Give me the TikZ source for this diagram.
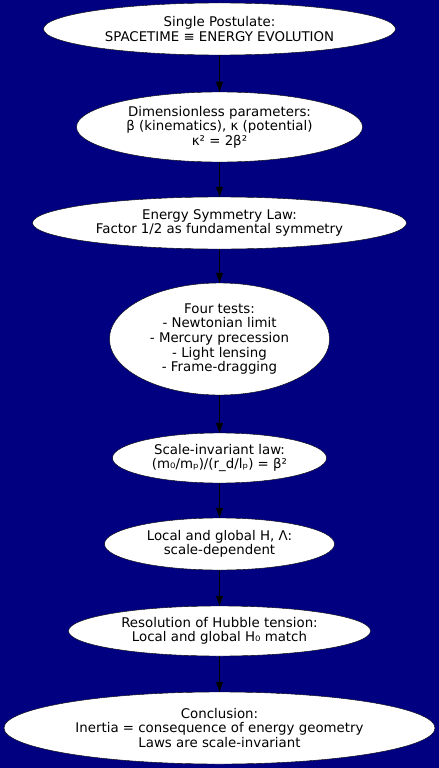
\documentclass[tikz,border=0pt]{standalone}
\usepackage{fontspec}
\setmainfont{DejaVu Sans}
\usetikzlibrary{shapes.geometric,arrows.meta}
\definecolor{azulFondo}{HTML}{000080}
\definecolor{negroT}{HTML}{000000}

\begin{document}
\begin{tikzpicture}[x=1bp,y=-1bp,
    elipse/.style={ellipse,draw=negroT,fill=white,inner sep=0pt,align=center,
      text=negroT,font=\fontsize{13.4}{14.6}\selectfont},
    flecha/.style={draw=negroT,-{Triangle[length=10bp,width=7bp]}}]
  \fill[azulFondo] (0,0) rectangle (439,768);
  \useasboundingbox (0,0) rectangle (439,768);
  % nodos
  \node[elipse,minimum width=352bp,minimum height=52bp] (postulado) at (219.5,29)
    {Single Postulate:\\SPACETIME ≡ ENERGY EVOLUTION};
  \node[elipse,minimum width=286bp,minimum height=70bp] (parametros) at (219.5,127)
    {Dimensionless parameters:\\β (kinematics), κ (potential)\\κ² = 2β²};
  \node[elipse,minimum width=374bp,minimum height=52bp] (simetria) at (219.5,223)
    {Energy Symmetry Law:\\Factor 1/2 as fundamental symmetry};
  \node[elipse,minimum width=220bp,minimum height=112bp] (pruebas) at (219.5,339)
    {Four tests:\\- Newtonian limit\\- Mercury precession\\- Light lensing\\- Frame-dragging};
  \node[elipse,minimum width=214bp,minimum height=50bp] (escala) at (219.5,458)
    {Scale-invariant law:\\(m₀/mₚ)/(r\_d/lₚ) = β²};
  \node[elipse,minimum width=230bp,minimum height=52bp] (local) at (219.5,544)
    {Local and global H, Λ:\\scale-dependent};
  \node[elipse,minimum width=302bp,minimum height=50bp] (hubble) at (219.5,631)
    {Resolution of Hubble tension:\\Local and global H₀ match};
  \node[elipse,minimum width=431bp,minimum height=72bp] (conclusion) at (219.5,728)
    {Conclusion:\\Inertia = consequence of energy geometry\\Laws are scale-invariant};
  % flechas
  \draw[flecha] (postulado) -- (parametros);
  \draw[flecha] (parametros) -- (simetria);
  \draw[flecha] (simetria) -- (pruebas);
  \draw[flecha] (pruebas) -- (escala);
  \draw[flecha] (escala) -- (local);
  \draw[flecha] (local) -- (hubble);
  \draw[flecha] (hubble) -- (conclusion);
\end{tikzpicture}
\end{document}
